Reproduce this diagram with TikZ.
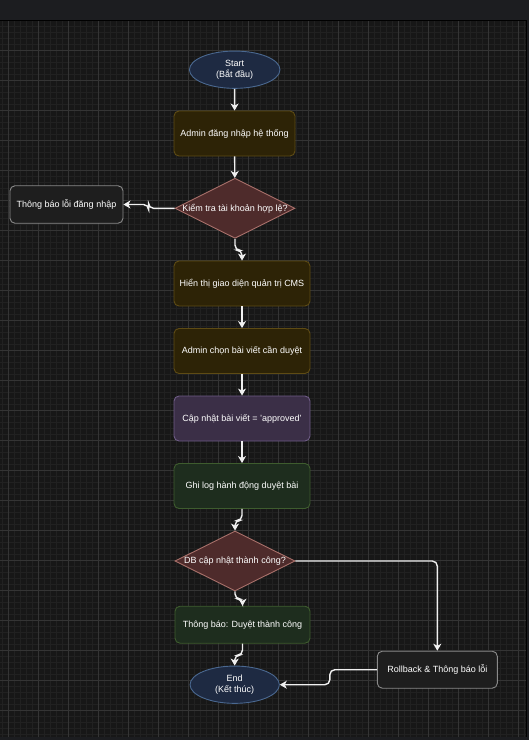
\documentclass[tikz,border=0pt]{standalone}
\usepackage{fontspec}
\setmainfont{Liberation Sans}
\usetikzlibrary{arrows.meta,shapes.geometric}

\definecolor{topbar}{HTML}{1C1D20}
\definecolor{canvasbg}{HTML}{171717}
\definecolor{gridminor}{HTML}{212121}
\definecolor{gridmajor}{HTML}{343434}
\definecolor{termfill}{HTML}{1E2A42}
\definecolor{termline}{HTML}{4A6890}
\definecolor{procfill}{HTML}{2D2306}
\definecolor{procline}{HTML}{5E4B14}
\definecolor{decfill}{HTML}{4E2B2B}
\definecolor{decline}{HTML}{A8706A}
\definecolor{errfill}{HTML}{1E1E1E}
\definecolor{errline}{HTML}{8A8A8A}
\definecolor{updfill}{HTML}{3B2F47}
\definecolor{updline}{HTML}{6E5C86}
\definecolor{logfill}{HTML}{1E2D1E}
\definecolor{logline}{HTML}{3E5C2E}

\tikzset{
  base/.style={draw, line width=0.9pt, text=white, inner sep=0pt, align=center,
    font=\fontsize{9}{11}\selectfont},
  term/.style={base, ellipse, fill=termfill, draw=termline,
    minimum width=90.5pt, minimum height=37.3pt},
  proc/.style={base, rectangle, rounded corners=5pt, fill=procfill, draw=procline,
    minimum width=136pt, minimum height=45pt},
  decision/.style={base, diamond, aspect=2, fill=decfill, draw=decline,
    minimum width=120pt, minimum height=60pt},
  errbox/.style={proc, fill=errfill, draw=errline, minimum height=37.5pt},
  updbox/.style={proc, fill=updfill, draw=updline},
  logbox/.style={proc, fill=logfill, draw=logline},
  link/.style={draw=white!94!black, line width=1.4pt, rounded corners=5pt,
    -{Stealth[length=7pt,width=8pt,inset=2pt]}},
}

\begin{document}
\begin{tikzpicture}[x=1pt, y=-1pt]
  % page and editor canvas
  \fill[topbar] (0,0) rectangle (529,740);
  \useasboundingbox (0,0) rectangle (529,740);
  \fill[canvasbg] (0,20) rectangle (526,737);
  \begin{scope}
    \clip (0,20) rectangle (526,737);
    \foreach \k in {0,...,88} \draw[gridminor, line width=0.6pt] (2.3+6*\k,20) -- (2.3+6*\k,737);
    \foreach \k in {0,...,120} \draw[gridminor, line width=0.6pt] (0,20+6*\k) -- (526,20+6*\k);
    \foreach \k in {0,...,17} \draw[gridmajor, line width=0.7pt] (8.3+30*\k,20) -- (8.3+30*\k,737);
    \foreach \k in {0,...,23} \draw[gridmajor, line width=0.7pt] (0,20+30*\k) -- (526,20+30*\k);
  \end{scope}
  \draw[black, line width=0.8pt] (0,20) -- (526,20) -- (526,737);

  % flow nodes
  \node[term] (start) at (234.7,69.7) {Start\\(Bắt đầu)};
  \node[proc, minimum width=121pt] (login) at (234.5,133.5) {Admin đăng nhập hệ thống};
  \node[decision] (check) at (235,208.3) {\makebox[0pt]{Kiểm tra tài khoản hợp lệ?}};
  \node[errbox, minimum width=113pt] (loginerr) at (66.5,204.5) {Thông báo lỗi đăng nhập};
  \node[proc] (cms) at (242,283.5) {Hiển thị giao diện quản trị CMS};
  \node[proc] (pick) at (242,351) {Admin chọn bài viết cần duyệt};
  \node[updbox] (update) at (242,418.5) {Cập nhật bài viết = 'approved'};
  \node[logbox] (log) at (242,486) {Ghi log hành động duyệt bài};
  \node[decision] (db) at (235,561) {\makebox[0pt]{DB cập nhật thành công?}};
  \node[logbox, minimum width=135pt, minimum height=37pt] (done) at (242.5,624.7) {Thông báo: Duyệt thành công};
  \node[errbox, minimum width=120pt, minimum height=37pt] (rollback) at (437.3,669.7) {Rollback \& Thông báo lỗi};
  \node[term, minimum width=89.3pt] (end) at (234.7,684.7) {End\\(Kết thúc)};

  % connectors
  \draw[link] (start) -- (login);
  \draw[link] (login) -- (check);
  \draw[link] (check.west) -- ++(-26,0) |- (loginerr.east);
  \draw[link] (check.south) -- ++(0,11.5) -| (cms.north);
  \draw[link] (cms) -- (pick);
  \draw[link] (pick) -- (update);
  \draw[link] (update) -- (log);
  \draw[link] (log.south) -- ++(0,11.5) -| (db.north);
  \draw[link] (db.south) -- ++(0,7.5) -| (done.north);
  \draw[link] (db.east) -| (rollback.north);
  \draw[link] (done.south) -- ++(0,11.5) -| (end.north);
  \draw[link] (rollback.west) -- ++(-47,0) |- (end.east);
\end{tikzpicture}
\end{document}
